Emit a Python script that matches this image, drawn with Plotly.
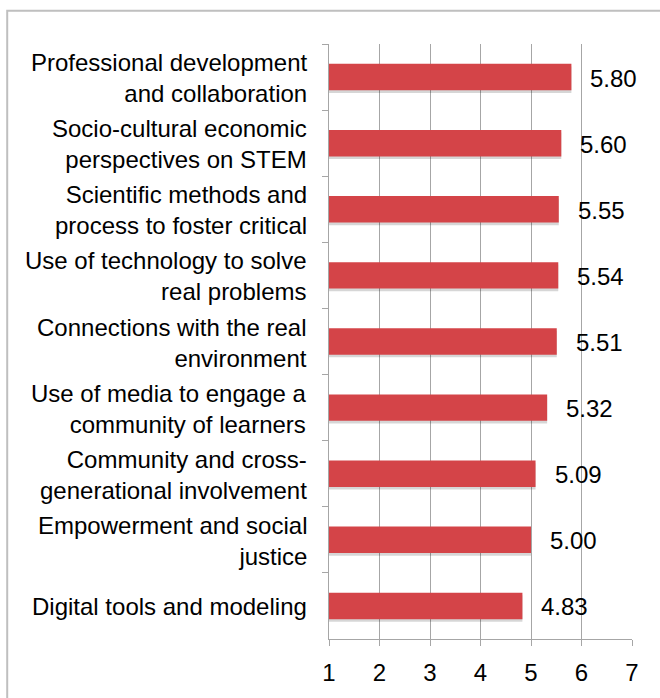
import plotly.graph_objects as go

# Survey ratings per dimension (top to bottom)
categories = [
    "Professional development<br>and collaboration",
    "Socio-cultural economic<br>perspectives on STEM",
    "Scientific methods and<br>process to foster critical",
    "Use of technology to solve<br>real problems",
    "Connections with the real<br>environment",
    "Use of media to engage a<br>community of learners",
    "Community and cross-<br>generational involvement",
    "Empowerment and social<br>justice",
    "Digital tools and modeling",
]
scores = [5.80, 5.60, 5.55, 5.54, 5.51, 5.32, 5.09, 5.00, 4.83]
x_ticks = [1, 2, 3, 4, 5, 6, 7]

FONT = "Liberation Sans, Arial, sans-serif"
BAR_RED = "#d44448"
GRID = "#a6a6a6"

fig = go.Figure()

# soft drop shadow under each bar
fig.add_trace(go.Bar(
    y=categories, x=scores, orientation="h",
    width=0.4, offset=-0.16,
    marker=dict(color="rgba(0,0,0,0.16)", line=dict(width=0)),
    hoverinfo="skip", showlegend=False,
))
fig.add_trace(go.Bar(
    y=categories, x=scores, orientation="h",
    width=0.4, offset=-0.2,
    marker=dict(color=BAR_RED, line=dict(width=0)),
    showlegend=False,
))

annotations = []
# value labels just past the end of each bar
for cat, v in zip(categories, scores):
    annotations.append(dict(
        x=v, y=cat, xref="x", yref="y", text=f"{v:.2f}",
        showarrow=False, xanchor="left", yanchor="middle",
        xshift=17, yshift=-1,
        font=dict(family=FONT, size=24, color="#000000"),
    ))

# right-aligned category labels beside the axis
for cat in categories:
    annotations.append(dict(
        x=0, y=cat, xref="paper", yref="y", text=cat,
        showarrow=False, xanchor="right", yanchor="middle", align="right",
        xshift=-20, yshift=-1,
        font=dict(family=FONT, size=24, color="#000000"),
    ))

fig.update_layout(
    width=660, height=698,
    margin=dict(l=329, r=28, t=44, b=56, pad=0),
    paper_bgcolor="white", plot_bgcolor="white",
    barmode="overlay",
    bargap=0.6,
    annotations=annotations,
    shapes=[dict(
        type="rect", xref="paper", yref="paper",
        x0=-1.062, x1=1.3, y0=-0.2, y1=1.056,
        line=dict(color="#bfbfbf", width=2), fillcolor="rgba(0,0,0,0)",
        layer="below",
    )],
    font=dict(family=FONT, size=22, color="#000000"),
)

fig.update_xaxes(
    range=[1, 7], tickvals=x_ticks, ticktext=[str(t) for t in x_ticks],
    showgrid=True, gridcolor=GRID, gridwidth=1.3,
    showline=True, linecolor=GRID, linewidth=1.3,
    ticks="outside", ticklen=6, tickcolor=GRID, tickwidth=1.3,
    ticklabelstandoff=6,
    tickfont=dict(family=FONT, size=24, color="#000000"),
    zeroline=False, fixedrange=True,
)
fig.update_yaxes(
    categoryorder="array", categoryarray=categories,
    autorange="reversed",
    showticklabels=False,
    showgrid=False, showline=True, linecolor=GRID, linewidth=1.3,
    ticks="outside", tickson="boundaries", ticklen=6,
    tickcolor=GRID, tickwidth=1.3,
    zeroline=False, fixedrange=True,
)

fig.write_html("out.html")
